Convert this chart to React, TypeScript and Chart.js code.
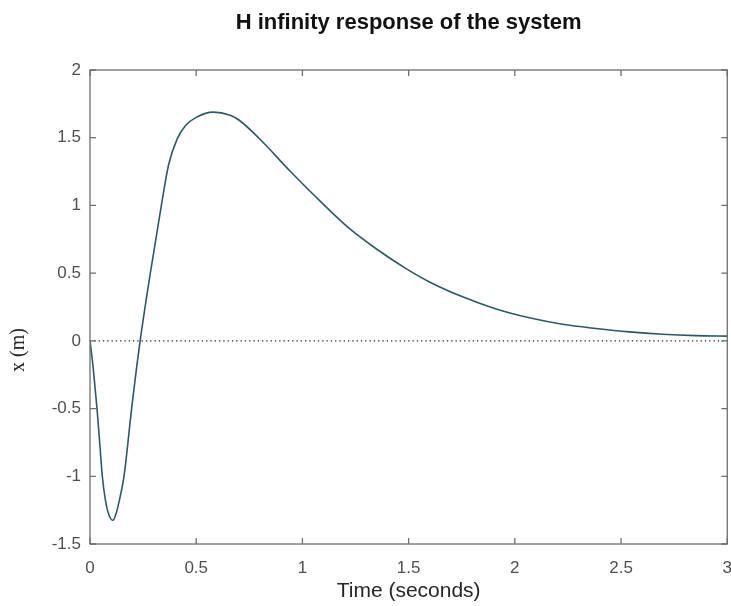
import React, { useEffect, useRef } from "react";
import { Chart, registerables } from "chart.js";

Chart.register(...registerables);

const chartTitle = "H infinity response of the system";
const xAxisTitle = "Time (seconds)";
const yAxisTitle = "x (m)";

const timeValues = [
  0, 0.015, 0.033, 0.048, 0.058, 0.072, 0.088, 0.108, 0.12, 0.135, 0.16, 0.196,
  0.236, 0.284, 0.336, 0.37, 0.41, 0.45, 0.5, 0.58, 0.66, 0.704, 0.798, 0.939,
  1.104, 1.222, 1.347, 1.488, 1.598, 1.754, 1.912, 2.068, 2.225, 2.382, 2.539,
  2.695, 2.852, 3.0,
];
const responseValues = [
  0, -0.2, -0.5, -0.8, -1.0, -1.17, -1.28, -1.325, -1.29, -1.2, -1.0, -0.5, 0,
  0.5, 1.0, 1.3, 1.49, 1.59, 1.65, 1.689, 1.665, 1.627, 1.492, 1.258, 1.0,
  0.828, 0.68, 0.533, 0.435, 0.325, 0.235, 0.17, 0.122, 0.091, 0.066, 0.049,
  0.039, 0.035,
];
const referenceTimes = [0, 3];
const referenceValues = [0, 0];

const xTickLabels = ["0", "0.5", "1", "1.5", "2", "2.5", "3"];
const yTickLabels = ["-1.5", "-1", "-0.5", "0", "0.5", "1", "1.5", "2"];

const AXIS_COLOR = "#6e6e6e";
const LABEL_COLOR = "#4f4f4f";
const SANS = "'Liberation Sans', Arial, sans-serif";

const boxPlugin = {
  id: "matlabBox",
  afterDraw(chart: any) {
    const { ctx, chartArea } = chart;
    const { left, right, top, bottom } = chartArea;
    const xs = chart.scales.x;
    const ys = chart.scales.y;
    ctx.save();
    ctx.strokeStyle = AXIS_COLOR;
    ctx.lineWidth = 1.3;
    ctx.strokeRect(left, top, right - left, bottom - top);
    const tl = 6;
    ctx.beginPath();
    xs.ticks.forEach((t: any) => {
      const px = xs.getPixelForValue(t.value);
      ctx.moveTo(px, bottom);
      ctx.lineTo(px, bottom - tl);
      ctx.moveTo(px, top);
      ctx.lineTo(px, top + tl);
    });
    ys.ticks.forEach((t: any) => {
      const py = ys.getPixelForValue(t.value);
      ctx.moveTo(left, py);
      ctx.lineTo(left + tl, py);
      ctx.moveTo(right, py);
      ctx.lineTo(right - tl, py);
    });
    ctx.stroke();
    // y-axis title
    ctx.translate(19, 350);
    ctx.rotate(-Math.PI / 2);
    ctx.fillStyle = "#262626";
    ctx.font = "20px 'Liberation Serif', 'Times New Roman', serif";
    ctx.textAlign = "center";
    ctx.textBaseline = "middle";
    ctx.fillText(yAxisTitle, 0, 0);
    ctx.restore();
  },
};

export default function App() {
  const canvasRef = useRef<HTMLCanvasElement | null>(null);

  useEffect(() => {
    if (!canvasRef.current) return;
    const chart = new Chart(canvasRef.current, {
      type: "line",
      data: {
        datasets: [
          {
            label: "response",
            data: timeValues.map((t, i) => ({ x: t, y: responseValues[i] })),
            borderColor: "#2b5a66",
            borderWidth: 1.6,
            pointRadius: 0,
            fill: false,
            cubicInterpolationMode: "monotone",
          },
          {
            label: "zero",
            data: referenceTimes.map((t, i) => ({ x: t, y: referenceValues[i] })),
            borderColor: "#222222",
            borderWidth: 1.2,
            borderDash: [1.3, 3],
            pointRadius: 0,
            fill: false,
          },
        ],
      },
      options: {
        responsive: false,
        animation: false,
        layout: { padding: { left: 0, right: 0, top: 0, bottom: 0 } },
        plugins: {
          legend: { display: false },
          tooltip: { enabled: false },
          title: {
            display: true,
            fullSize: false,
            text: chartTitle,
            color: "#111111",
            font: { family: SANS, size: 22, weight: "bold" },
            padding: { top: 10, bottom: 33.6 },
          },
        },
        scales: {
          x: {
            type: "linear",
            min: 0,
            max: 3,
            grid: { display: false, drawTicks: false },
            border: { display: false },
            afterFit: (s: any) => {
              s.height = 62;
            },
            ticks: {
              stepSize: 0.5,
              autoSkip: false,
              maxRotation: 0,
              padding: 14,
              color: LABEL_COLOR,
              font: { family: SANS, size: 17 },
              callback: (_v: any, i: number) => xTickLabels[i],
            },
            title: {
              display: true,
              text: xAxisTitle,
              color: "#262626",
              font: { family: SANS, size: 21 },
              padding: { top: 0, bottom: 2 },
            },
          },
          y: {
            type: "linear",
            min: -1.5,
            max: 2,
            grid: { display: false, drawTicks: false },
            border: { display: false },
            afterFit: (s: any) => {
              s.width = 90;
            },
            ticks: {
              stepSize: 0.5,
              autoSkip: false,
              padding: 9,
              color: LABEL_COLOR,
              font: { family: SANS, size: 17 },
              callback: (_v: any, i: number) => yTickLabels[i],
            },
          },
        },
      },
      plugins: [boxPlugin],
    });
    return () => chart.destroy();
  }, []);

  return (
    <div
      style={{
        position: "fixed",
        left: 0,
        top: 0,
        width: 731,
        height: 606,
        overflow: "hidden",
        background: "#ffffff",
      }}
    >
      <canvas ref={canvasRef} width={746} height={606} />
    </div>
  );
}
